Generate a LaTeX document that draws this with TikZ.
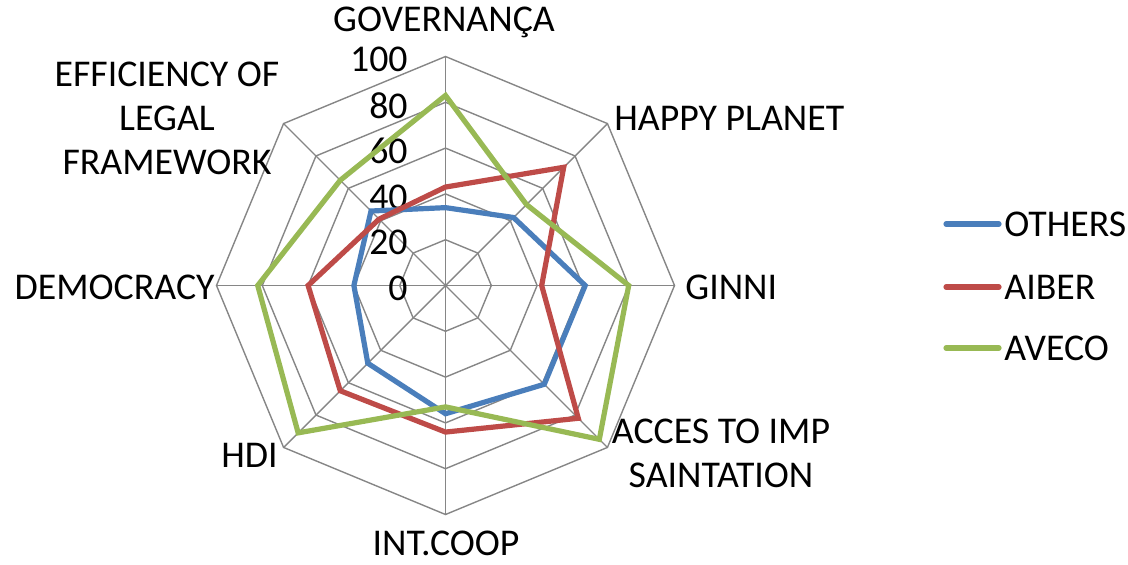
\documentclass[tikz,border=0pt]{standalone}
\usepackage{fontspec}
\setmainfont{Carlito}
\definecolor{sblue}{HTML}{4A7EBB}
\definecolor{sred}{HTML}{BE4B48}
\definecolor{sgreen}{HTML}{98B954}
\definecolor{gridgray}{HTML}{868686}
\tikzset{
  gridline/.style={draw=gridgray, line width=0.7pt},
  series/.style={line width=2.6pt, line join=miter},
  lbl/.style={inner sep=0pt, text=black},
  legline/.style={line width=2.6pt, line cap=round},
}
\newcommand{\seriesline}[9]{%
  \draw[series, #1] (90:{#2*2.29}) -- (45:{#3*2.29}) -- (0:{#4*2.29}) -- (-45:{#5*2.29}) -- (-90:{#6*2.29}) -- (-135:{#7*2.29}) -- (180:{#8*2.29}) -- (135:{#9*2.29}) -- cycle;}
\begin{document}
\begin{tikzpicture}[x=0.5pt,y=0.5pt,font=\fontsize{18.9}{22}\selectfont]
\useasboundingbox (0,0) rectangle (1128,564);
\begin{scope}[shift={(445.5,278.5)}]
  \def\R{229}
  % grid rings
  \foreach \k in {1,...,5}{
    \draw[gridline] (90:{\k*\R/5}) \foreach \a in {45,0,-45,-90,-135,180,135}{ -- (\a:{\k*\R/5})} -- cycle;
  }
  % spokes
  \coordinate (c) at (0,0);
  \foreach \a in {90,45,0,-45,-90,-135,180,135}{
    \draw[gridline] (c) -- (\a:\R);
  }
  % tick labels
  \foreach \v/\k in {0/0,20/1,40/2,60/3,80/4,100/5}{
    \node[lbl, anchor=east] (t\v) at (-37.5,{\k*\R/5-3}) {\v};
  }
  % series
  \seriesline{sblue}{34}{42}{61}{61}{56}{48}{40}{46}
  \seriesline{sred}{43}{73}{42}{82}{64}{65}{60}{41}
  \seriesline{sgreen}{83}{50}{80}{95}{53}{91}{82}{65}
\end{scope}
% axis labels
\node[lbl] (gov) at (444,542) {GOVERNANÇA};
\node[lbl, anchor=west] (hap) at (614,446) {HAPPY PLANET};
\node[lbl, anchor=west] (gin) at (685,277) {GINNI};
\node[lbl, align=center] (acc) at (721,111) {ACCES TO IMP\\SAINTATION};
\node[lbl, anchor=base] (int) at (446,9) {INT.COOP};
\node[lbl, anchor=east] (hdi) at (278,109) {HDI};
\node[lbl, anchor=east] (dem) at (215,277) {DEMOCRACY};
\node[lbl, align=center] (eff) at (167,446) {EFFICIENCY OF\\LEGAL\\FRAMEWORK};
% legend
\coordinate (l1a) at (946,340); \coordinate (l1b) at (999,340);
\coordinate (l2a) at (946,277); \coordinate (l2b) at (999,277);
\coordinate (l3a) at (946,216); \coordinate (l3b) at (999,216);
\draw[legline, sblue] (l1a) -- (l1b);
\draw[legline, sred] (l2a) -- (l2b);
\draw[legline, sgreen] (l3a) -- (l3b);
\node[lbl, anchor=west] (lo) at (1004,340) {OTHERS};
\node[lbl, anchor=west] (la) at (1004,277) {AIBER};
\node[lbl, anchor=west] (lv) at (1004,216) {AVECO};
\end{tikzpicture}
\end{document}
